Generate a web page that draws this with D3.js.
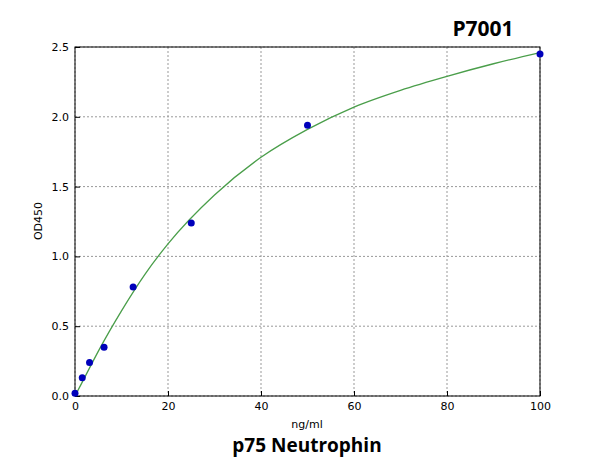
<!DOCTYPE html><html><head><script src="https://cdn.jsdelivr.net/npm/d3@7"></script>
<style>body{margin:0;background:#fff}text{font-family:"DejaVu Sans",sans-serif}</style></head><body><svg width="600" height="474"></svg>
<script>
const pointX=[0,1.56,3.125,6.25,12.5,25,50,100];
const pointY=[0.02,0.13,0.24,0.35,0.78,1.24,1.94,2.45];
const curveX=[0,2.5,5,10,15,20,30,40,50,60,70,80,90,100];
const curveY=[0,0.16,0.32,0.61,0.87,1.09,1.44,1.71,1.91,2.07,2.19,2.29,2.38,2.46];
const xTicks=[0,20,40,60,80,100];
const yTicks=[0,0.5,1,1.5,2,2.5];
const svg=d3.select("svg");
const L=75,R=540,T=47,B=396;
const x=d3.scaleLinear().domain([0,100]).range([L,R]);
const y=d3.scaleLinear().domain([0,2.5]).range([B,T]);
const g=svg.append("g");
g.selectAll(".gx").data(xTicks).join("line").attr("x1",d=>x(d)).attr("x2",d=>x(d)).attr("y1",T).attr("y2",B).attr("stroke","#999").attr("stroke-dasharray","2,2");
g.selectAll(".gy").data(yTicks).join("line").attr("y1",d=>y(d)).attr("y2",d=>y(d)).attr("x1",L).attr("x2",R).attr("stroke","#999").attr("stroke-dasharray","2,2");
const xa=svg.append("g").attr("transform",`translate(0,${B})`).call(d3.axisBottom(x).tickValues(xTicks).tickSizeInner(-5).tickSizeOuter(0).tickPadding(6));
const ya=svg.append("g").attr("transform",`translate(${L},0)`).call(d3.axisLeft(y).tickValues(yTicks).tickFormat(d3.format(".1f")).tickSizeInner(-5).tickSizeOuter(0).tickPadding(6));
[xa,ya].forEach(a=>{a.selectAll("text").attr("font-size",11).attr("fill","#000");a.select(".domain").remove();});
svg.append("rect").attr("x",L).attr("y",T).attr("width",R-L).attr("height",B-T).attr("fill","none").attr("stroke","#000");
svg.append("path").datum(curveX.map((d,i)=>[d,curveY[i]])).attr("fill","none").attr("stroke","#4a9e4a").attr("stroke-width",1.3)
 .attr("d",d3.line().x(d=>x(d[0])).y(d=>y(d[1])).curve(d3.curveMonotoneX));
svg.selectAll(".pt").data(pointX.map((d,i)=>[d,pointY[i]])).join("circle").attr("cx",d=>x(d[0])).attr("cy",d=>y(d[1])).attr("r",3.5).attr("fill","#0000bb");
svg.append("text").attr("x",307).attr("y",428).attr("text-anchor","middle").attr("font-size",11).text("ng/ml");
svg.append("text").attr("transform","translate(42,221) rotate(-90)").attr("text-anchor","middle").attr("font-size",11).text("OD450");
svg.append("text").attr("x",483).attr("y",36).attr("text-anchor","middle").attr("font-size",21).attr("font-weight","bold").style("font-family","Open Sans").text("P7001");
svg.append("text").attr("x",307).attr("y",452).attr("text-anchor","middle").attr("font-size",19).attr("font-weight","bold").style("font-family","Open Sans").text("p75 Neutrophin");
</script></body></html>
